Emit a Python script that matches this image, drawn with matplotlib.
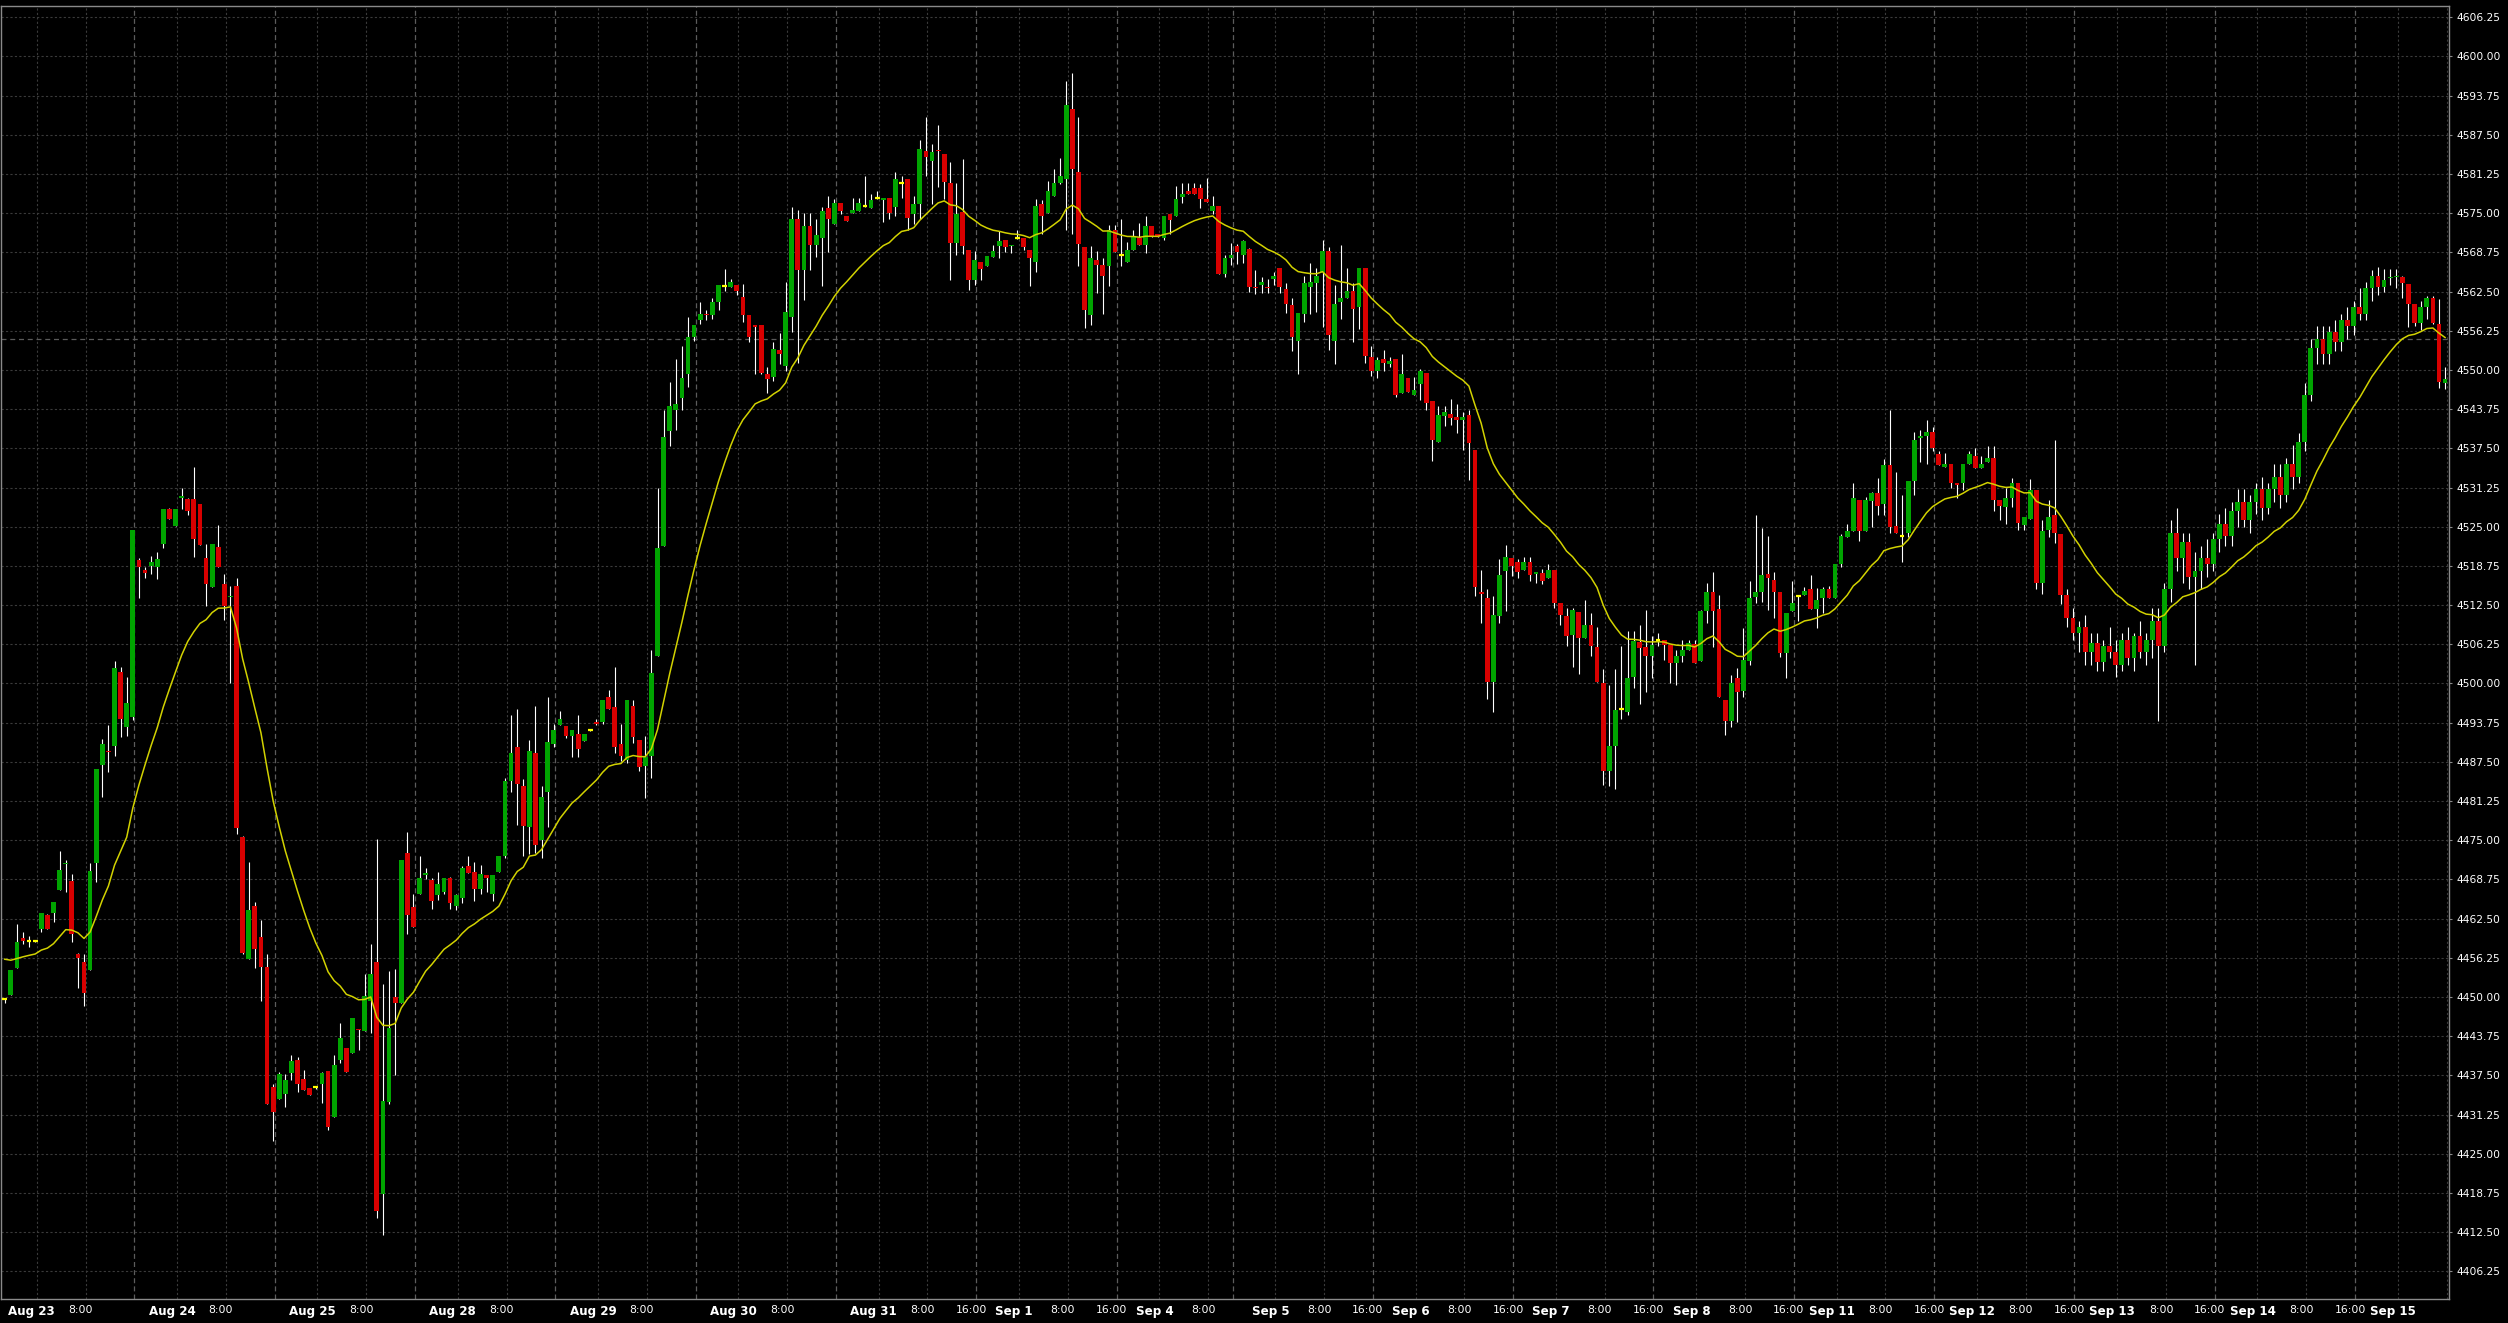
import numpy as np
import pandas as pd
import matplotlib
matplotlib.use('Agg')
from matplotlib import pyplot as plt

# hourly bars (index 0 = first bar on the left)
opens = [
    4449.6, 4450.3, 4454.7, 4459.4, 4458.9, 4458.9, 4460.9, 4463.1, 4463.4, 4467.0,  # 0
    4471.2, 4468.5, 4456.9, 4455.6, 4454.3, 4471.4, 4487.0, 4489.2, 4490.0, 4501.8,  # 10
    4493.1, 4494.6, 4519.7, 4518.1, 4518.7, 4518.5, 4522.2, 4527.9, 4525.1, 4529.6,  # 20
    4529.5, 4529.5, 4528.6, 4520.0, 4515.4, 4521.7, 4515.9, 4513.8, 4515.5, 4475.5,  # 30
    4456.1, 4464.5, 4459.5, 4454.8, 4435.6, 4433.8, 4434.5, 4437.8, 4440.0, 4436.9,  # 40
    4435.5, 4435.6, 4436.1, 4438.2, 4430.8, 4440.0, 4441.9, 4441.1, 4444.9, 4444.5,  # 50
    4449.3, 4455.5, 4418.5, 4433.3, 4450.0, 4449.1, 4473.0, 4464.3, 4466.4, 4469.4,  # 60
    4468.7, 4466.2, 4466.8, 4468.9, 4464.5, 4465.8, 4470.9, 4469.9, 4467.3, 4469.4,  # 70
    4466.5, 4470.0, 4472.5, 4484.5, 4489.9, 4483.7, 4477.1, 4488.9, 4475.0, 4482.7,  # 80
    4490.3, 4493.4, 4493.2, 4491.6, 4492.0, 4490.8, 4492.5, 4493.7, 4493.8, 4497.9,  # 90
    4496.2, 4490.3, 4487.8, 4496.4, 4491.0, 4486.9, 4488.5, 4504.4, 4522.0, 4540.2,  # 100
    4543.6, 4545.5, 4549.4, 4555.2, 4558.0, 4559.0, 4558.8, 4560.8, 4563.4, 4563.2,  # 110
    4563.6, 4561.7, 4558.7, 4557.2, 4557.2, 4549.4, 4548.8, 4553.2, 4550.6, 4558.4,  # 120
    4574.0, 4566.0, 4573.0, 4570.0, 4571.0, 4575.8, 4573.3, 4576.7, 4574.6, 4575.0,  # 130
    4575.3, 4576.2, 4575.8, 4577.4, 4577.1, 4577.5, 4576.0, 4579.8, 4580.4, 4574.8,  # 140
    4576.5, 4585.0, 4583.3, 4585.1, 4584.5, 4579.9, 4570.3, 4575.2, 4569.2, 4564.4,  # 150
    4567.2, 4566.6, 4568.0, 4569.8, 4570.7, 4569.8, 4571.0, 4571.0, 4569.2, 4567.2,  # 160
    4576.4, 4575.0, 4577.7, 4579.9, 4580.4, 4591.6, 4581.5, 4569.6, 4558.8, 4567.5,  # 170
    4566.7, 4566.6, 4572.4, 4568.3, 4567.2, 4569.2, 4571.0, 4570.0, 4572.9, 4571.7,  # 180
    4571.0, 4574.9, 4574.5, 4577.6, 4578.5, 4579.0, 4579.0, 4577.2, 4575.3, 4576.2,  # 190
    4565.3, 4567.9, 4569.7, 4568.4, 4569.3, 4563.3, 4563.6, 4563.3, 4564.5, 4566.2,  # 200
    4562.9, 4560.3, 4554.6, 4559.0, 4563.3, 4563.8, 4565.6, 4569.0, 4554.6, 4560.9,  # 210
    4561.5, 4562.6, 4560.1, 4566.2, 4552.0, 4549.9, 4551.7, 4551.0, 4551.7, 4546.3,  # 220
    4548.7, 4546.0, 4547.8, 4549.5, 4545.0, 4538.5, 4542.6, 4543.0, 4542.5, 4542.1,  # 230
    4542.8, 4537.3, 4514.6, 4513.6, 4500.2, 4510.7, 4518.0, 4520.0, 4519.3, 4518.1,  # 240
    4519.3, 4517.4, 4517.6, 4516.9, 4518.1, 4512.8, 4510.7, 4507.7, 4511.4, 4507.2,  # 250
    4509.3, 4505.8, 4500.0, 4486.1, 4490.0, 4495.9, 4495.5, 4501.0, 4506.6, 4505.8,  # 260
    4504.4, 4507.0, 4507.0, 4506.1, 4503.3, 4504.4, 4505.4, 4506.3, 4503.6, 4511.6,  # 270
    4514.6, 4511.8, 4497.4, 4494.0, 4500.8, 4498.8, 4503.6, 4513.8, 4514.6, 4517.5,  # 280
    4516.5, 4514.6, 4504.9, 4511.6, 4513.9, 4514.1, 4515.0, 4511.9, 4513.7, 4515.0,  # 290
    4513.7, 4519.0, 4523.4, 4524.3, 4529.2, 4524.3, 4529.1, 4530.4, 4528.7, 4534.8,  # 300
    4525.1, 4523.6, 4524.0, 4532.3, 4539.1, 4539.5, 4540.1, 4536.6, 4534.6, 4535.0,  # 310
    4531.9, 4531.9, 4535.0, 4536.2, 4534.4, 4535.3, 4536.0, 4529.3, 4528.1, 4529.6,  # 320
    4531.9, 4525.2, 4526.3, 4530.8, 4516.0, 4524.4, 4526.8, 4523.9, 4514.1, 4510.5,  # 330
    4508.0, 4509.0, 4505.0, 4506.5, 4503.5, 4506.0, 4505.0, 4503.0, 4507.0, 4504.0,  # 340
    4507.5, 4505.0, 4507.0, 4510.0, 4506.0, 4515.0, 4524.0, 4520.0, 4522.5, 4517.0,  # 350
    4518.0, 4520.0, 4519.0, 4523.0, 4525.5, 4523.5, 4527.5, 4529.0, 4526.0, 4529.0,  # 360
    4531.0, 4528.0, 4531.0, 4533.0, 4530.0, 4535.0, 4533.0, 4538.5, 4546.0, 4553.5,  # 370
    4555.0, 4552.5, 4556.0, 4554.5, 4558.0, 4557.0, 4560.0, 4559.0, 4563.0, 4565.0,  # 380
    4563.2, 4564.7, 4564.8, 4564.8, 4563.7, 4560.5, 4557.5, 4560.1, 4561.4, 4557.3,  # 390
    4547.9,
]
highs = [
    4449.8, 4454.3, 4461.7, 4460.3, 4459.8, 4459.0, 4463.4, 4463.2, 4465.2, 4473.3,
    4471.9, 4469.6, 4457.0, 4456.9, 4471.3, 4486.3, 4491.1, 4493.4, 4503.6, 4502.7,
    4501.0, 4524.4, 4520.0, 4518.5, 4520.3, 4521.0, 4527.8, 4528.0, 4527.8, 4531.2,
    4529.6, 4534.5, 4528.6, 4522.2, 4522.2, 4525.2, 4517.5, 4515.5, 4516.9, 4475.6,
    4471.5, 4465.1, 4462.2, 4456.8, 4436.1, 4438.0, 4437.7, 4440.8, 4440.5, 4438.4,
    4435.5, 4435.8, 4438.0, 4438.2, 4440.8, 4445.9, 4441.9, 4446.6, 4444.9, 4453.7,
    4458.5, 4475.2, 4452.0, 4454.2, 4454.5, 4471.8, 4476.3, 4466.4, 4472.5, 4470.5,
    4469.0, 4470.0, 4468.9, 4469.2, 4466.5, 4470.9, 4472.5, 4471.5, 4471.1, 4469.4,
    4469.5, 4472.5, 4484.9, 4495.0, 4496.0, 4484.7, 4491.0, 4496.4, 4483.6, 4497.9,
    4493.6, 4495.6, 4493.2, 4492.5, 4495.0, 4492.0, 4492.6, 4494.3, 4497.4, 4498.9,
    4502.7, 4493.6, 4497.4, 4497.3, 4491.0, 4491.6, 4505.4, 4531.2, 4543.6, 4548.1,
    4551.7, 4553.9, 4558.5, 4557.2, 4560.8, 4559.5, 4561.4, 4563.6, 4566.1, 4564.5,
    4563.6, 4563.7, 4558.7, 4557.2, 4557.2, 4550.5, 4554.4, 4555.9, 4564.0, 4576.0,
    4575.5, 4575.0, 4575.0, 4574.0, 4576.0, 4577.7, 4577.2, 4576.7, 4574.6, 4577.5,
    4577.5, 4581.0, 4578.1, 4578.6, 4577.5, 4577.5, 4581.5, 4581.0, 4580.4, 4577.8,
    4586.7, 4590.4, 4586.0, 4589.1, 4584.5, 4583.2, 4579.8, 4583.7, 4569.2, 4568.9,
    4567.2, 4568.2, 4569.9, 4572.1, 4570.7, 4570.0, 4572.3, 4571.0, 4569.2, 4577.2,
    4577.1, 4580.2, 4582.0, 4583.8, 4596.1, 4597.4, 4590.4, 4569.6, 4569.7, 4568.9,
    4567.8, 4573.1, 4573.2, 4574.0, 4570.4, 4572.4, 4573.5, 4574.5, 4572.9, 4571.7,
    4574.6, 4574.9, 4579.3, 4579.9, 4579.8, 4579.8, 4579.7, 4580.6, 4577.7, 4576.2,
    4568.4, 4570.2, 4570.1, 4570.7, 4569.5, 4565.9, 4564.9, 4564.5, 4565.6, 4566.2,
    4563.8, 4561.5, 4559.1, 4565.0, 4567.1, 4566.2, 4570.7, 4569.6, 4563.6, 4569.9,
    4566.3, 4563.8, 4566.2, 4566.2, 4553.8, 4552.0, 4553.2, 4552.0, 4551.7, 4552.6,
    4548.7, 4548.9, 4550.2, 4549.5, 4545.0, 4544.2, 4544.2, 4545.4, 4544.5, 4543.3,
    4543.6, 4537.3, 4518.1, 4515.1, 4513.9, 4519.9, 4522.1, 4520.0, 4519.8, 4520.2,
    4520.2, 4517.8, 4518.2, 4519.1, 4518.1, 4512.8, 4512.1, 4512.1, 4511.4, 4513.3,
    4511.2, 4509.0, 4502.3, 4499.8, 4502.3, 4506.0, 4508.3, 4508.3, 4509.3, 4511.7,
    4507.6, 4508.0, 4507.0, 4506.1, 4505.3, 4507.0, 4507.0, 4507.0, 4511.7, 4516.0,
    4517.7, 4514.1, 4497.4, 4501.4, 4502.4, 4508.8, 4516.4, 4526.8, 4524.8, 4523.5,
    4517.8, 4514.6, 4511.2, 4516.3, 4513.9, 4515.4, 4517.3, 4515.2, 4515.4, 4515.5,
    4519.0, 4523.8, 4525.5, 4532.0, 4529.2, 4529.8, 4530.6, 4532.7, 4535.8, 4543.6,
    4533.8, 4530.0, 4532.3, 4540.1, 4540.5, 4542.0, 4540.9, 4537.0, 4536.7, 4535.0,
    4531.9, 4535.0, 4537.1, 4537.5, 4536.2, 4537.8, 4537.8, 4529.3, 4531.2, 4532.7,
    4531.9, 4526.6, 4532.6, 4530.8, 4526.0, 4529.2, 4538.9, 4523.9, 4515.0, 4512.0,
    4510.0, 4511.0, 4508.0, 4508.0, 4507.0, 4509.0, 4507.0, 4508.0, 4509.0, 4508.0,
    4510.0, 4508.0, 4512.0, 4512.0, 4516.0, 4526.0, 4528.0, 4524.0, 4524.0, 4521.0,
    4522.0, 4523.0, 4524.0, 4527.0, 4528.0, 4529.0, 4531.0, 4531.0, 4530.0, 4532.0,
    4533.0, 4532.0, 4535.0, 4535.0, 4536.0, 4538.0, 4540.0, 4548.0, 4555.0, 4557.0,
    4557.0, 4557.0, 4558.0, 4559.0, 4560.0, 4561.0, 4563.0, 4564.0, 4566.0, 4566.5,
    4566.1, 4566.1, 4566.1, 4565.0, 4563.7, 4560.5, 4561.0, 4561.8, 4561.8, 4561.3,
    4550.5,
]
lows = [
    4449.0, 4450.3, 4454.7, 4458.5, 4457.9, 4458.8, 4460.3, 4460.8, 4462.0, 4467.0,
    4466.8, 4458.7, 4451.5, 4448.5, 4454.3, 4468.4, 4481.9, 4485.9, 4488.4, 4491.4,
    4491.7, 4494.2, 4513.6, 4516.8, 4517.5, 4516.7, 4521.6, 4526.2, 4525.1, 4527.8,
    4526.8, 4520.1, 4522.1, 4512.3, 4515.4, 4518.6, 4510.2, 4500.0, 4476.0, 4456.8,
    4456.1, 4454.7, 4449.3, 4433.0, 4427.0, 4433.8, 4432.5, 4436.8, 4434.9, 4435.1,
    4434.3, 4435.4, 4433.1, 4428.8, 4430.8, 4439.4, 4438.0, 4441.1, 4441.6, 4444.5,
    4444.2, 4414.7, 4412.1, 4432.9, 4437.6, 4449.1, 4460.0, 4461.1, 4466.4, 4468.8,
    4464.0, 4465.5, 4466.4, 4464.0, 4463.8, 4465.0, 4469.7, 4465.3, 4466.5, 4466.7,
    4465.3, 4470.0, 4472.1, 4482.7, 4477.4, 4472.5, 4472.8, 4472.9, 4472.1, 4477.1,
    4489.9, 4493.4, 4491.3, 4488.3, 4488.3, 4490.8, 4492.4, 4493.4, 4493.6, 4496.0,
    4488.9, 4487.7, 4487.3, 4490.5, 4486.0, 4481.7, 4485.0, 4504.4, 4522.0, 4537.9,
    4540.5, 4543.6, 4547.3, 4554.7, 4557.3, 4558.0, 4558.2, 4559.5, 4562.6, 4563.2,
    4562.0, 4557.7, 4554.4, 4549.4, 4549.3, 4546.3, 4548.3, 4550.9, 4549.8, 4556.0,
    4551.1, 4561.2, 4566.0, 4568.0, 4563.4, 4568.8, 4573.3, 4574.9, 4573.7, 4575.0,
    4575.3, 4576.0, 4575.8, 4577.2, 4573.6, 4574.1, 4574.5, 4577.5, 4572.4, 4573.3,
    4574.1, 4581.0, 4576.4, 4579.2, 4577.3, 4564.3, 4568.3, 4568.5, 4562.7, 4563.5,
    4564.4, 4566.6, 4568.0, 4567.9, 4568.8, 4568.7, 4570.9, 4569.2, 4563.4, 4565.6,
    4571.7, 4575.0, 4577.7, 4579.6, 4572.3, 4571.7, 4566.6, 4556.7, 4557.1, 4562.2,
    4558.9, 4563.4, 4568.8, 4566.6, 4567.2, 4569.2, 4570.0, 4568.7, 4571.2, 4571.2,
    4570.7, 4571.7, 4574.5, 4576.7, 4578.0, 4578.0, 4575.9, 4576.8, 4574.9, 4565.3,
    4564.8, 4566.8, 4566.9, 4567.1, 4562.5, 4562.1, 4562.3, 4562.3, 4563.6, 4562.3,
    4559.1, 4553.0, 4549.3, 4557.7, 4559.0, 4559.3, 4556.8, 4553.2, 4551.0, 4558.2,
    4561.5, 4554.4, 4556.5, 4551.1, 4549.0, 4548.7, 4549.9, 4550.5, 4545.7, 4546.3,
    4546.5, 4546.0, 4545.2, 4543.6, 4535.5, 4538.5, 4541.0, 4541.2, 4540.0, 4537.3,
    4532.5, 4514.0, 4509.7, 4497.6, 4495.5, 4509.7, 4511.5, 4517.2, 4516.8, 4518.1,
    4516.4, 4516.0, 4515.8, 4516.9, 4512.1, 4509.4, 4506.0, 4502.7, 4501.5, 4507.2,
    4504.4, 4500.2, 4483.8, 4483.7, 4483.2, 4494.3, 4494.9, 4499.3, 4496.8, 4498.7,
    4500.9, 4506.0, 4503.8, 4500.1, 4499.8, 4503.4, 4505.4, 4503.3, 4503.6, 4509.7,
    4505.8, 4497.9, 4491.8, 4493.1, 4493.9, 4497.8, 4503.0, 4512.9, 4513.0, 4511.7,
    4510.5, 4504.3, 4500.8, 4511.6, 4510.0, 4514.1, 4511.9, 4508.8, 4511.2, 4513.7,
    4513.7, 4518.6, 4523.4, 4524.3, 4522.8, 4524.3, 4525.0, 4526.8, 4526.8, 4524.0,
    4524.0, 4519.4, 4523.4, 4530.0, 4535.3, 4535.0, 4537.0, 4534.8, 4534.6, 4531.2,
    4529.6, 4530.8, 4535.0, 4534.4, 4534.4, 4535.3, 4527.5, 4526.1, 4525.5, 4528.1,
    4524.4, 4524.4, 4526.3, 4515.1, 4514.3, 4523.4, 4522.4, 4512.6, 4509.0, 4507.0,
    4505.0, 4503.0, 4503.0, 4502.0, 4502.0, 4504.0, 4501.0, 4502.0, 4503.0, 4502.0,
    4504.0, 4503.0, 4504.0, 4494.0, 4505.0, 4513.0, 4518.0, 4516.0, 4515.0, 4503.0,
    4515.0, 4517.0, 4518.0, 4521.0, 4522.0, 4522.0, 4525.0, 4525.0, 4524.0, 4527.0,
    4526.0, 4527.0, 4529.0, 4528.0, 4529.0, 4531.0, 4532.0, 4537.0, 4545.0, 4551.0,
    4551.0, 4551.0, 4553.0, 4553.0, 4555.0, 4555.5, 4558.0, 4558.0, 4561.0, 4562.0,
    4562.5, 4563.6, 4563.1, 4561.4, 4556.9, 4557.0, 4556.3, 4558.1, 4557.3, 4547.2,
    4546.9,
]
closes = [
    4449.6, 4454.3, 4458.7, 4459.0, 4458.9, 4458.9, 4463.4, 4460.8, 4465.2, 4470.3,
    4471.3, 4460.0, 4456.2, 4450.7, 4470.1, 4486.3, 4490.4, 4489.0, 4502.5, 4494.3,
    4496.9, 4524.4, 4518.5, 4517.6, 4519.4, 4519.9, 4527.8, 4526.2, 4527.8, 4529.9,
    4527.5, 4523.0, 4522.1, 4515.8, 4522.2, 4518.6, 4512.3, 4514.0, 4476.9, 4457.0,
    4463.9, 4457.7, 4454.8, 4433.0, 4431.6, 4437.7, 4436.8, 4439.8, 4436.1, 4435.1,
    4434.3, 4435.6, 4437.8, 4429.3, 4439.1, 4443.5, 4438.0, 4446.6, 4444.7, 4450.2,
    4453.7, 4415.8, 4433.4, 4445.0, 4449.1, 4471.8, 4463.1, 4461.1, 4468.9, 4469.7,
    4465.3, 4468.0, 4468.9, 4465.0, 4466.2, 4470.5, 4469.7, 4467.3, 4469.6, 4469.0,
    4469.5, 4472.5, 4484.4, 4488.9, 4484.0, 4477.2, 4489.3, 4474.3, 4481.9, 4490.7,
    4492.5, 4494.3, 4491.6, 4492.5, 4489.5, 4492.0, 4492.5, 4493.6, 4497.4, 4496.0,
    4489.9, 4488.5, 4497.4, 4491.5, 4486.7, 4488.2, 4501.7, 4521.6, 4539.3, 4544.2,
    4544.6, 4548.7, 4555.2, 4557.2, 4558.9, 4558.8, 4560.8, 4563.6, 4563.4, 4564.0,
    4562.6, 4558.7, 4555.2, 4556.9, 4549.5, 4548.6, 4553.4, 4552.6, 4559.2, 4574.0,
    4566.0, 4573.0, 4570.0, 4571.5, 4575.3, 4574.0, 4576.7, 4575.3, 4573.7, 4575.5,
    4576.7, 4576.2, 4577.1, 4577.4, 4577.5, 4575.0, 4580.4, 4579.8, 4574.3, 4576.4,
    4585.2, 4583.9, 4584.7, 4584.9, 4580.0, 4570.3, 4574.9, 4569.8, 4564.4, 4567.5,
    4566.1, 4568.2, 4568.9, 4570.5, 4569.6, 4570.0, 4571.0, 4569.6, 4567.9, 4576.2,
    4574.6, 4578.5, 4579.9, 4581.0, 4592.2, 4582.0, 4570.1, 4559.6, 4567.8, 4566.7,
    4565.0, 4572.4, 4568.8, 4568.3, 4569.2, 4571.2, 4570.0, 4572.9, 4571.2, 4571.2,
    4574.5, 4573.9, 4577.2, 4578.0, 4578.0, 4578.0, 4577.2, 4576.8, 4576.2, 4565.3,
    4567.8, 4568.4, 4568.8, 4570.5, 4563.3, 4563.0, 4564.0, 4563.0, 4565.0, 4563.3,
    4560.6, 4555.2, 4559.1, 4563.8, 4564.1, 4565.0, 4568.9, 4555.6, 4560.6, 4561.4,
    4562.6, 4559.7, 4566.2, 4552.3, 4549.9, 4551.6, 4551.1, 4551.4, 4546.0, 4549.3,
    4546.5, 4546.8, 4549.8, 4544.8, 4538.8, 4542.8, 4543.3, 4542.4, 4542.0, 4542.5,
    4538.4, 4515.4, 4514.3, 4500.2, 4511.0, 4517.3, 4520.2, 4518.7, 4517.8, 4519.3,
    4517.3, 4517.8, 4516.4, 4518.1, 4512.8, 4510.9, 4507.5, 4511.7, 4507.2, 4509.3,
    4505.9, 4500.2, 4486.1, 4490.0, 4495.7, 4495.9, 4500.8, 4506.7, 4505.7, 4504.4,
    4506.2, 4507.0, 4506.1, 4503.3, 4504.4, 4505.4, 4506.5, 4503.3, 4511.5, 4514.6,
    4511.6, 4497.9, 4494.0, 4500.1, 4498.7, 4503.7, 4513.7, 4514.6, 4517.3, 4516.8,
    4514.6, 4504.9, 4511.2, 4512.8, 4513.9, 4514.8, 4511.9, 4513.3, 4515.0, 4513.7,
    4519.0, 4523.5, 4524.3, 4529.6, 4524.3, 4529.2, 4530.4, 4528.3, 4534.8, 4524.9,
    4524.0, 4523.6, 4532.3, 4538.9, 4539.4, 4540.1, 4537.6, 4534.8, 4535.0, 4532.0,
    4531.6, 4535.0, 4536.6, 4534.4, 4535.0, 4536.0, 4529.3, 4528.3, 4529.6, 4531.9,
    4525.6, 4526.6, 4530.9, 4516.0, 4524.3, 4526.6, 4524.0, 4514.1, 4510.5, 4508.0,
    4509.0, 4505.0, 4506.5, 4503.5, 4506.0, 4505.0, 4503.0, 4507.0, 4504.0, 4507.5,
    4505.0, 4507.0, 4510.0, 4506.0, 4515.0, 4524.0, 4520.0, 4522.5, 4517.0, 4518.0,
    4520.0, 4519.0, 4523.0, 4525.5, 4523.5, 4527.5, 4529.0, 4526.0, 4529.0, 4531.0,
    4528.0, 4531.0, 4533.0, 4530.0, 4535.0, 4533.0, 4538.5, 4546.0, 4553.5, 4555.0,
    4552.5, 4556.0, 4554.5, 4558.0, 4557.0, 4560.0, 4559.0, 4563.0, 4565.0, 4563.2,
    4564.3, 4564.8, 4565.0, 4563.8, 4560.6, 4557.5, 4560.0, 4561.4, 4557.5, 4548.1,
    4548.5,
]
assert len(opens) == len(highs) == len(lows) == len(closes) == 401

# yellow line: 20 bar exponential average of the closes, value before bar 0
ma_start = 4456.7
ma_span = 20

# session labels on the time axis (bar index of midnight)
day_labels = ['Aug 23', 'Aug 24', 'Aug 25', 'Aug 28', 'Aug 29', 'Aug 30', 'Aug 31', 'Sep 1', 'Sep 4',
              'Sep 5', 'Sep 6', 'Sep 7', 'Sep 8', 'Sep 11', 'Sep 12', 'Sep 13', 'Sep 14', 'Sep 15']
day_first_bar = [4, 27, 50, 73, 96, 119, 142, 165, 188, 207, 230, 253, 276, 299, 322, 345, 368, 391]
session_hours = [16, 16, 16, 16, 16, 16, 16, 16, 12, 16, 16, 16, 16, 16, 16, 16, 16, 16]
show_8 = [True] * 17 + [False]
show_16 = [False] * 6 + [True, True, False] + [True] * 8 + [False]

price_ticks = np.arange(4406.25, 4606.26, 6.25)
ref_price = 4555.0

BG = '#000000'
UP = '#00a400'
DOWN = '#d80000'
DOJI = '#ffff00'
MA_COLOR = '#d2d200'
GRID = '#3a3a3a'
SESSION_GRID = '#5c5c5c'
FRAME = '#8a8a8a'

W, H = 2508, 1323
fig = plt.figure(figsize=(W / 100, H / 100), dpi=100, facecolor=BG)
ax = fig.add_axes([1 / W, 24 / H, 2448 / W, 1293 / H])
ax.set_facecolor(BG)

x = np.arange(len(opens))
o = np.array(opens)
h = np.array(highs)
l = np.array(lows)
c = np.array(closes)

# grid
for first, last, show in zip(day_first_bar, session_hours, show_8):
    ax.axvline(first + 1.25, color=GRID, linestyle=(0, (2, 2)), linewidth=0.8, zorder=0)
    ax.axvline(first + 9.25, color=GRID, linestyle=(0, (2, 2)), linewidth=0.8, zorder=0)
    ax.axvline(first + last + 1.25, color=SESSION_GRID, linestyle=(0, (4, 2.5)), linewidth=0.9, zorder=0)
ax.axhline(ref_price, color='#5a5a5a', linestyle=(0, (4, 3)), linewidth=0.9, zorder=1)

# candles
ax.vlines(x, l, h, color='white', linewidth=0.8, zorder=3)
doji = c == o
body_low = np.minimum(o, c)
body_h = np.maximum(np.abs(c - o), 0.2)
colors = np.where(c > o, UP, DOWN)
ax.bar(x[~doji], body_h[~doji], bottom=body_low[~doji], width=0.78, color=colors[~doji],
       linewidth=0, zorder=4)
ax.hlines(o[doji], x[doji] - 0.39, x[doji] + 0.39, color=DOJI, linewidth=1.6, zorder=5)

ma = pd.Series([ma_start] + closes).ewm(span=ma_span, adjust=False).mean().to_numpy()[1:]
ax.plot(x, ma, color=MA_COLOR, linewidth=1.1, zorder=6)

ax.set_xlim(-0.606, 400.64)
ax.set_ylim(4401.83, 4608.05)

# price axis
ax.yaxis.tick_right()
ax.set_yticks(price_ticks)
ax.set_yticklabels(['%.2f' % v for v in price_ticks])
ax.yaxis.grid(True, color=GRID, linestyle=(0, (2, 2)), linewidth=0.8)
ax.set_axisbelow(True)
ax.tick_params(axis='y', colors='white', labelsize=7.7, length=2.5, width=0.8, pad=3)
ax.tick_params(axis='y', color=FRAME)

# time axis
ticks = []
for name, first, s8, s16 in zip(day_labels, day_first_bar, show_8, show_16):
    ticks.append((first + 0.45, name, True))
    if s8:
        ticks.append((first + 8.45, '8:00', False))
    if s16:
        ticks.append((first + 16.45, '16:00', False))
ax.set_xticks([t[0] for t in ticks])
ax.set_xticklabels([t[1] for t in ticks])
for label, (pos, name, bold) in zip(ax.get_xticklabels(), ticks):
    label.set_fontweight('bold' if bold else 'normal')
    label.set_fontsize(8.6 if bold else 7.8)
ax.tick_params(axis='x', colors='white', length=0, pad=4)

for side in ax.spines.values():
    side.set_color(FRAME)
    side.set_linewidth(1.0)

fig.savefig('out.png', dpi=100, facecolor=BG)
